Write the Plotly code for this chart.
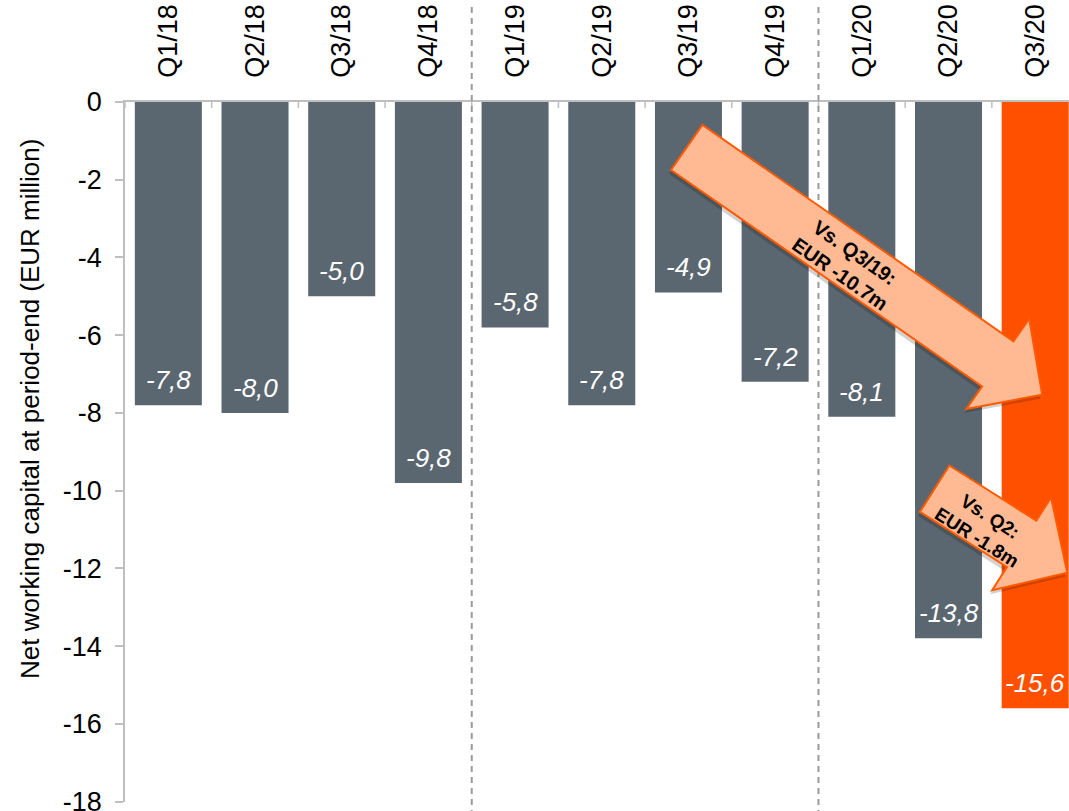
import math
import plotly.graph_objects as go

# Net working capital at period-end, EUR million
quarters = ["Q1/18", "Q2/18", "Q3/18", "Q4/18", "Q1/19", "Q2/19",
            "Q3/19", "Q4/19", "Q1/20", "Q2/20", "Q3/20"]
nwc = [-7.8, -8.0, -5.0, -9.8, -5.8, -7.8, -4.9, -7.2, -8.1, -13.8, -15.6]
y_ticks = [0, -2, -4, -6, -8, -10, -12, -14, -16, -18]
year_breaks = [3.5, 7.5]  # between Q4/18|Q1/19 and Q4/19|Q1/20

GREY = "#5b6770"
ORANGE = "#ff5000"
AXIS = "#bfbfbf"
FONT = "Arial, Liberation Sans, sans-serif"

# figure geometry
FIG_W, FIG_H = 1069, 811
M_L, M_R, M_T, M_B = 125, 0, 102, 9
PW, PH = FIG_W - M_L - M_R, FIG_H - M_T - M_B
XR = (-0.5, 10.39)
YR = (-18.0, 0.0)


def to_px(x, y):
    px = M_L + (x - XR[0]) / (XR[1] - XR[0]) * PW
    py = M_T + (YR[1] - y) / (YR[1] - YR[0]) * PH
    return px, py


def to_data(px, py):
    x = XR[0] + (px - M_L) / PW * (XR[1] - XR[0])
    y = YR[1] - (py - M_T) / PH * (YR[1] - YR[0])
    return x, y


def block_arrow(tail, tip, shaft=55, head=110, head_len=54, dx=0, dy=0):
    """Block arrow polygon as an SVG path in data coordinates."""
    tx, ty = to_px(*tail)
    hx, hy = to_px(*tip)
    L = math.hypot(hx - tx, hy - ty)
    ux, uy = (hx - tx) / L, (hy - ty) / L
    nx, ny = -uy, ux
    bx, by = hx - ux * head_len, hy - uy * head_len
    pts = [
        (tx + nx * shaft / 2, ty + ny * shaft / 2),
        (bx + nx * shaft / 2, by + ny * shaft / 2),
        (bx + nx * head / 2, by + ny * head / 2),
        (hx, hy),
        (bx - nx * head / 2, by - ny * head / 2),
        (bx - nx * shaft / 2, by - ny * shaft / 2),
        (tx - nx * shaft / 2, ty - ny * shaft / 2),
    ]
    d = []
    for i, (px, py) in enumerate(pts):
        x, y = to_data(px + dx, py + dy)
        d.append(("M" if i == 0 else "L") + f"{x:.4f},{y:.4f}")
    angle = math.degrees(math.atan2(uy, ux))
    return " ".join(d) + " Z", angle


def fmt(v):
    return f"{v:.1f}".replace(".", ",")


colors = [GREY] * (len(quarters) - 1) + [ORANGE]

fig = go.Figure(go.Bar(
    x=quarters,
    y=nwc,
    width=0.773,
    marker=dict(color=colors, line=dict(width=0)),
    hoverinfo="skip",
))

annotations = []
# value labels just above the bottom end of each bar
for q, v in zip(quarters, nwc):
    annotations.append(dict(x=q, y=v, xref="x", yref="y", text=fmt(v),
                            showarrow=False, xanchor="center", yanchor="bottom",
                            yshift=8,
                            font=dict(family=FONT, size=26, color="white",
                                      style="italic")))

shapes = []
# cross-shaped ticks on the category axis at category boundaries
for b in range(len(quarters) + 1):
    shapes.append(dict(type="line", xref="x", yref="y", x0=b - 0.5, x1=b - 0.5,
                       ysizemode="pixel", yanchor=0, y0=-6, y1=6,
                       line=dict(color=AXIS, width=1.5)))
# dashed separators between years
for xb in year_breaks:
    shapes.append(dict(type="line", xref="x", yref="paper", x0=xb, x1=xb,
                       y0=-0.02, y1=1.14,
                       line=dict(color="#9a9a9a", width=2, dash="6px,5px"),
                       layer="above"))

# comparison arrows: Q3/19 -> Q3/20 and Q2/20 -> Q3/20
delta_yoy = nwc[10] - nwc[6]
delta_qoq = nwc[10] - nwc[9]
arrows = [
    dict(tail=(5.98, -1.17), tip=(10.08, -7.53), text_at=(7.83, -4.14), size=20,
         text=f"Vs. Q3/19:<br>EUR {delta_yoy:.1f}m"),
    dict(tail=(8.84, -9.95), tip=(10.37, -12.11), text_at=(9.40, -10.93), size=19,
         text=f"Vs. Q2:<br>EUR {delta_qoq:.1f}m"),
]
for a in arrows:
    shadow, _ = block_arrow(a["tail"], a["tip"], dx=-2, dy=4)
    shapes.append(dict(type="path", xref="x", yref="y", path=shadow,
                       fillcolor="rgba(0,0,0,0.18)", line=dict(width=0),
                       layer="above"))
    path, ang = block_arrow(a["tail"], a["tip"])
    shapes.append(dict(type="path", xref="x", yref="y", path=path,
                       fillcolor="#ffba94", line=dict(color="#ff5a00", width=2),
                       layer="above"))
    annotations.append(dict(x=a["text_at"][0], y=a["text_at"][1], xref="x", yref="y",
                            text=f"<b>{a['text']}</b>", showarrow=False,
                            textangle=ang, align="center",
                            font=dict(family=FONT, size=a["size"], color="black")))

annotations.append(dict(
    x=(30 - M_L) / PW, y=(FIG_H - M_B - 409) / PH, xref="paper", yref="paper",
    xanchor="center", yanchor="middle",
    text="Net working capital at period-end (EUR million)", showarrow=False,
    textangle=-90, font=dict(family=FONT, size=26, color="black"),
))

fig.update_layout(
    width=FIG_W, height=FIG_H,
    margin=dict(l=M_L, r=M_R, t=M_T, b=M_B, pad=0),
    paper_bgcolor="white", plot_bgcolor="white",
    showlegend=False,
    shapes=shapes,
    annotations=annotations,
    xaxis=dict(side="top", type="category", range=list(XR), tickangle=-90,
               ticks="", showline=True, linecolor=AXIS, linewidth=1.5,
               showgrid=False, zeroline=False, automargin=False,
               tickfont=dict(family=FONT, size=27, color="black"),
               ticklabelstandoff=17),
    yaxis=dict(range=[YR[0] - 0.01, YR[1]], tickvals=y_ticks,
               ticktext=[str(t) for t in y_ticks],
               ticks="outside", ticklen=8, tickcolor=AXIS, tickwidth=1.5,
               showline=True, linecolor=AXIS, linewidth=1.5,
               showgrid=False, zeroline=False, ticklabelstandoff=8,
               ticklabeloverflow="allow", automargin=False,
               tickfont=dict(family=FONT, size=27, color="black")),
)

fig.write_html("out.html")
